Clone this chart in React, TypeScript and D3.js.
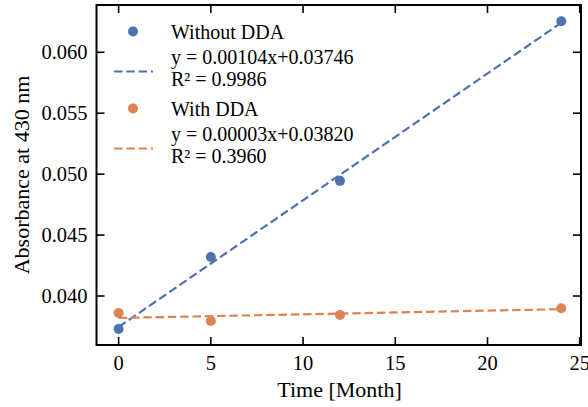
import React from "react";
import * as d3 from "d3";

const months = [0, 5, 12, 24];
const withoutDDA = [0.03729, 0.0432, 0.04945, 0.06254];
const withDDA = [0.0386, 0.03795, 0.03844, 0.03899];
const seriesNames = ["Without DDA", "With DDA"];
const fitSlopes = [0.00104, 0.00003];
const fitIntercepts = [0.03746, 0.0382];
const fitLabels = [
  ["y = 0.00104x+0.03746", "R\u00b2 = 0.9986"],
  ["y = 0.00003x+0.03820", "R\u00b2 = 0.3960"],
];
const xTicks = [0, 5, 10, 15, 20, 25];
const yTicks = [0.04, 0.045, 0.05, 0.055, 0.06];
const colors = ["#4C72B0", "#DD8452"];

const W = 588;
const H = 407;
const left = 96.5;
const right = 581;
const top = 5;
const bottom = 345;
const FONT = "Liberation Serif";
const ts = { fontFamily: FONT };
const tickFs = 20.5;
const legFs = 20;
const labFs = 22;

export default function App() {
  const x = d3.scaleLinear().domain([-1.2, 25.07]).range([left, right]);
  const y = d3.scaleLinear().domain([0.03598, 0.06388]).range([bottom, top]);
  const series = [withoutDDA, withDDA];
  const line = d3
    .line<[number, number]>()
    .x((d) => x(d[0]))
    .y((d) => y(d[1]));
  const tickLen = 8;
  const legendRows = [
    { markerY: 31.5, nameY: 38.5, eqY: [63.5, 85.5], dashY: 71.5 },
    { markerY: 108.5, nameY: 115.5, eqY: [140.5, 162.5], dashY: 148.5 },
  ];
  return (
    <svg
      width={W}
      height={H}
      style={{ position: "absolute", left: 0, top: 0, background: "#fff", fontFamily: FONT }}
    >
      <rect x={0} y={0} width={W} height={H} fill="#fff" />
      {series.map((vals, i) => {
        const xs = [months[0], months[months.length - 1]];
        const pts: [number, number][] = xs.map((m) => [m, fitSlopes[i] * m + fitIntercepts[i]]);
        return (
          <path
            key={"fit" + i}
            d={line(pts) || ""}
            fill="none"
            stroke={colors[i]}
            strokeWidth={2.2}
            strokeDasharray="8.5,3.8"
          />
        );
      })}
      {series.map((vals, i) =>
        vals.map((v, j) => (
          <circle key={"p" + i + "-" + j} cx={x(months[j])} cy={y(v)} r={5} fill={colors[i]} />
        ))
      )}
      <rect x={left} y={top} width={right - left} height={bottom - top} fill="none" stroke="#000" strokeWidth={2} />
      {xTicks.map((t) => (
        <g key={"xt" + t}>
          <line x1={x(t)} x2={x(t)} y1={bottom} y2={bottom - tickLen} stroke="#000" strokeWidth={1.6} />
          <line x1={x(t)} x2={x(t)} y1={top} y2={top + tickLen} stroke="#000" strokeWidth={1.6} />
          <text x={x(t)} y={369.5} textAnchor="middle" fontSize={tickFs} fill="#000" style={ts}>
            {t}
          </text>
        </g>
      ))}
      {yTicks.map((t) => (
        <g key={"yt" + t}>
          <line x1={left} x2={left + tickLen} y1={y(t)} y2={y(t)} stroke="#000" strokeWidth={1.6} />
          <line x1={right} x2={right - tickLen} y1={y(t)} y2={y(t)} stroke="#000" strokeWidth={1.6} />
          <text x={87.5} y={y(t)} dy="0.34em" textAnchor="end" fontSize={tickFs} fill="#000" style={ts}>
            {d3.format(".3f")(t)}
          </text>
        </g>
      ))}
      <text x={339.5} y={397} textAnchor="middle" fontSize={labFs} fill="#000" style={ts}>
        Time [Month]
      </text>
      <text
        transform={`translate(29,175) rotate(-90)`}
        textAnchor="middle"
        fontSize={labFs}
        fill="#000"
        style={ts}
      >
        Absorbance at 430 nm
      </text>
      {legendRows.map((r, i) => (
        <g key={"lg" + i}>
          <circle cx={133} cy={r.markerY} r={5} fill={colors[i]} />
          <text x={171} y={r.nameY} fontSize={legFs} fill="#000" style={ts}>
            {seriesNames[i]}
          </text>
          <line x1={114} x2={153} y1={r.dashY} y2={r.dashY} stroke={colors[i]} strokeWidth={2.2} strokeDasharray="8.5,3.8" />
          <text x={171} y={r.eqY[0]} fontSize={legFs} fill="#000" style={ts}>
            {fitLabels[i][0]}
          </text>
          <text x={171} y={r.eqY[1]} fontSize={legFs} fill="#000" style={ts}>
            {fitLabels[i][1]}
          </text>
        </g>
      ))}
    </svg>
  );
}
